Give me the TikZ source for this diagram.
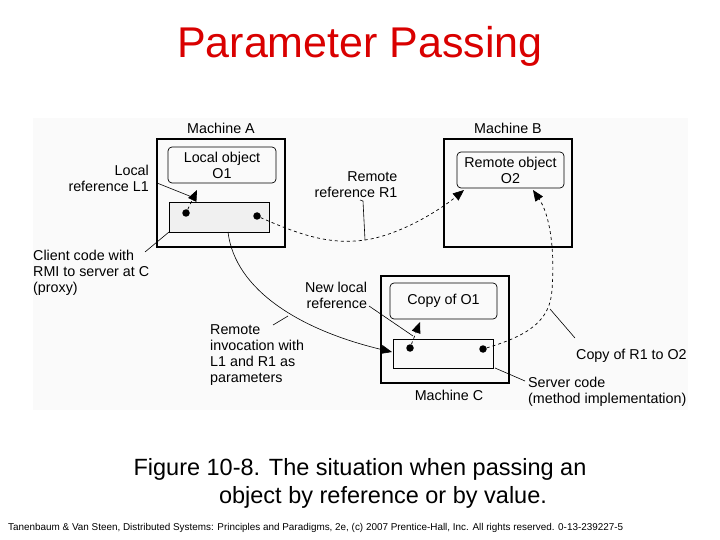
\documentclass[tikz,border=0pt]{standalone}
\usepackage{fontspec}
\setmainfont{Liberation Sans}
\usetikzlibrary{arrows.meta}
\begin{document}
\begin{tikzpicture}[x=1pt,y=-1pt,
  mach/.style={draw,line width=1.8pt},
  obj/.style={draw,rounded corners=4pt,line width=0.7pt},
  code/.style={draw,line width=0.6pt,fill=gray!12},
  lbl/.style={font=\fontsize{14.3}{16}\selectfont,inner sep=0pt},
  dot/.style={circle,fill,inner sep=0pt,minimum size=7.5pt},
  dref/.style={dashed,line width=0.7pt,-{Triangle[length=11pt,width=9pt]}},
  thin/.style={line width=0.6pt}]
\useasboundingbox (0,0) rectangle (720,540);
\fill[gray!4] (33,118) rectangle (688,410);
\node[font=\fontsize{43}{46}\selectfont,text=red!85!black] (title) at (360,46) {Parameter Passing};
% Machines
\draw[mach] (157,139) rectangle (285,247);
\draw[mach] (444,139) rectangle (572,247);
\draw[mach] (381,276) rectangle (509,383);
\node[lbl] (mA) at (221,128) {Machine A};
\node[lbl] (mB) at (508,128) {Machine B};
\node[lbl] (mC) at (449,395) {Machine C};
\node[obj,minimum width=108pt,minimum height=36pt,align=center,lbl] (o1) at (222,165) {Local object\\O1};
\node[obj,minimum width=107pt,minimum height=36pt,align=center,lbl] (o2) at (510.5,170) {Remote object\\O2};
\node[obj,minimum width=107pt,minimum height=36pt,lbl] (c1) at (443.5,301) {Copy of O1};
\node[code,minimum width=100pt,minimum height=30pt] (cl) at (219,217) {};
\node[code,fill=none,minimum width=100pt,minimum height=29pt] (sv) at (443,353.5) {};
\node[dot] (d1) at (186,213) {};
\node[dot] (d2) at (257,216) {};
\node[dot] (d3) at (410,348) {};
\node[dot] (d4) at (483,349) {};
% labels
\node[lbl,align=right,anchor=east] (l1) at (149,178) {Local\\reference L1};
\node[lbl,align=right] (r1) at (356,185) {Remote\\reference R1};
\node[lbl,align=left,anchor=west] (cc) at (33,273) {Client code with\\RMI to server at C\\(proxy)};
\node[lbl,align=right] (nl) at (336,295) {New local\\reference};
\node[lbl,align=left,anchor=west] (ri) at (210,355) {Remote\\invocation with\\L1 and R1 as\\parameters};
\node[lbl,anchor=west] (cr) at (576,356) {Copy of R1 to O2};
\node[lbl,align=left,anchor=west] (sc) at (528,392) {Server code\\(method implementation)};
% references
\draw[dref] (d1) -- (197,190);
\draw[dref] (d2) .. controls (300,235) and (330,245) .. (365,240) .. controls (400,235) and (440,210) .. (464,190);
\draw[dref] (d3) -- (420,322);
\draw[dref] (d4) .. controls (530,335) and (550,320) .. (552,290) .. controls (555,250) and (550,215) .. (533,190);
\draw[thin,-{Triangle[length=11pt,width=9pt]}] (228,232) .. controls (235,290) and (300,330) .. (392,352);
% pointer lines
\draw[thin] (157,183) -- (192,197);
\draw[thin] (360,200) -- (363,201) -- (365,240);
\draw[thin] (145,252) -- (169,232);
\draw[thin] (273,325) -- (288,316);
\draw[thin] (369,306) -- (413,336);
\draw[thin] (550,309) -- (575,338);
\draw[thin] (495,368) -- (525,381);
% caption
\node[font=\fontsize{23.5}{28}\selectfont] (cap1) at (360,469) {Figure 10-8. The situation when passing an};
\node[font=\fontsize{23.5}{28}\selectfont] (cap2) at (383,497) {object by reference or by value.};
\node[font=\fontsize{9.9}{11}\selectfont,anchor=west,inner sep=0pt] (ft) at (8,528) {Tanenbaum \& Van Steen, Distributed Systems: Principles and Paradigms, 2e, (c) 2007 Prentice-Hall, Inc. All rights reserved. 0-13-239227-5};
\end{tikzpicture}
\end{document}
